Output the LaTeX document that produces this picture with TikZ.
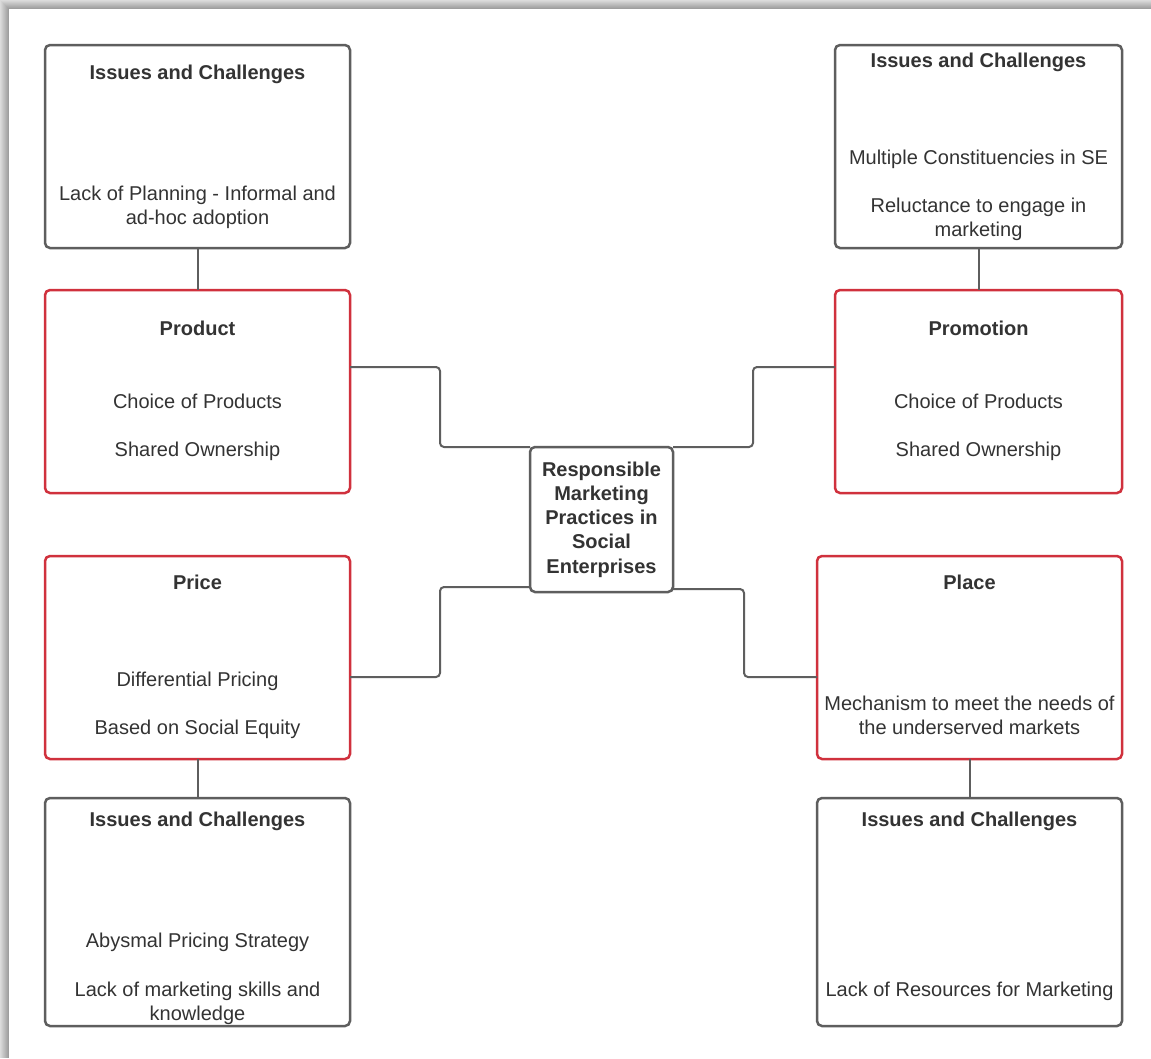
\documentclass[tikz,border=0pt]{standalone}
\usepackage{fontspec}
\setmainfont{Liberation Sans}
\definecolor{boxgray}{HTML}{5E5E5E}
\definecolor{boxred}{HTML}{D0313D}
\definecolor{txtgray}{HTML}{333333}
\begin{document}
\begin{tikzpicture}[x=1pt,y=-1pt,
  box/.style={draw=boxgray,line width=2.5pt,rounded corners=5pt,inner sep=0pt,outer sep=0pt,fill=white},
  redbox/.style={box,draw=boxred},
  conn/.style={draw=boxgray,line width=2pt,rounded corners=4pt},
  txt/.style={anchor=base,inner sep=0pt,text=txtgray,font=\fontsize{20}{24}\selectfont},
  ttl/.style={txt,font=\fontsize{20}{24}\selectfont\bfseries}]
\useasboundingbox (0,0) rectangle (1151,1058);
% page shadow
\foreach \i/\k in {0/14,1/17,2/20,3/23,4/26,5/29,6/32,7/35,8/38}
  \fill[black!\k] (\i,\i) rectangle (1151,1058);
\fill[white] (9,9) rectangle (1151,1058);

% boxes
\node[box,minimum width=305pt,minimum height=203pt] (tli) at (197.5,146.5) {};
\node[redbox,minimum width=305pt,minimum height=203pt] (prod) at (197.5,391.5) {};
\node[box,minimum width=287pt,minimum height=203pt] (tri) at (978.5,146.5) {};
\node[redbox,minimum width=287pt,minimum height=203pt] (promo) at (978.5,391.5) {};
\node[box,minimum width=143pt,minimum height=145pt] (center) at (601.5,519.5) {};
\node[redbox,minimum width=305pt,minimum height=203pt] (price) at (197.5,657.5) {};
\node[box,minimum width=305pt,minimum height=228pt] (bli) at (197.5,912) {};
\node[redbox,minimum width=305pt,minimum height=203pt] (place) at (969.5,657.5) {};
\node[box,minimum width=305pt,minimum height=228pt] (bri) at (969.5,912) {};

% connectors
\coordinate (j1) at (440,367);
\coordinate (j2) at (753,367);
\coordinate (j3) at (440,677);
\coordinate (j4) at (744,677);
\draw[conn] (tli.south) -- (prod.north);
\draw[conn] (tri.south) -- (promo.north);
\draw[conn] (price.south) -- (bli.north);
\draw[conn] (place.south) -- (bri.north);
\draw[conn] (prod.east |- j1) -- (j1) |- (center.north west);
\draw[conn] (promo.west |- j2) -- (j2) |- (center.north east);
\draw[conn] ([yshift=5pt]center.south west) -| (j3) -- (price.east |- j3);
\draw[conn] ([yshift=3pt]center.south east) -| (j4) -- (place.west |- j4);

% texts: top-left issues
\node[ttl] (a0) at (197.5,79) {Issues and Challenges};
\node[txt] (a1) at (197.5,200) {Lack of Planning - Informal and};
\node[txt] (a2) at (197.5,224) {ad-hoc adoption};
% product
\node[ttl] (b0) at (197.5,335) {Product};
\node[txt] (b1) at (197.5,408) {Choice of Products};
\node[txt] (b2) at (197.5,456) {Shared Ownership};
% top-right issues
\node[ttl] (c0) at (978.5,67) {Issues and Challenges};
\node[txt] (c1) at (978.5,164) {Multiple Constituencies in SE};
\node[txt] (c2) at (978.5,212) {Reluctance to engage in};
\node[txt] (c3) at (978.5,236) {marketing};
% promotion
\node[ttl] (d0) at (978.5,335) {Promotion};
\node[txt] (d1) at (978.5,408) {Choice of Products};
\node[txt] (d2) at (978.5,456) {Shared Ownership};
% center
\node[ttl] (e1) at (601.5,476) {Responsible};
\node[ttl] (e2) at (601.5,500) {Marketing};
\node[ttl] (e3) at (601.5,524) {Practices in};
\node[ttl] (e4) at (601.5,548) {Social};
\node[ttl] (e5) at (601.5,573) {Enterprises};
% price
\node[ttl] (f0) at (197.5,589) {Price};
\node[txt] (f1) at (197.5,686) {Differential Pricing};
\node[txt] (f2) at (197.5,734) {Based on Social Equity};
% bottom-left issues
\node[ttl] (g0) at (197.5,826) {Issues and Challenges};
\node[txt] (g1) at (197.5,947) {Abysmal Pricing Strategy};
\node[txt] (g2) at (197.5,996) {Lack of marketing skills and};
\node[txt] (g3) at (197.5,1020) {knowledge};
% place
\node[ttl] (h0) at (969.5,589) {Place};
\node[txt] (h1) at (969.5,710) {Mechanism to meet the needs of};
\node[txt] (h2) at (969.5,734) {the underserved markets};
% bottom-right issues
\node[ttl] (i0) at (969.5,826) {Issues and Challenges};
\node[txt] (i1) at (969.5,996) {Lack of Resources for Marketing};
\end{tikzpicture}
\end{document}
